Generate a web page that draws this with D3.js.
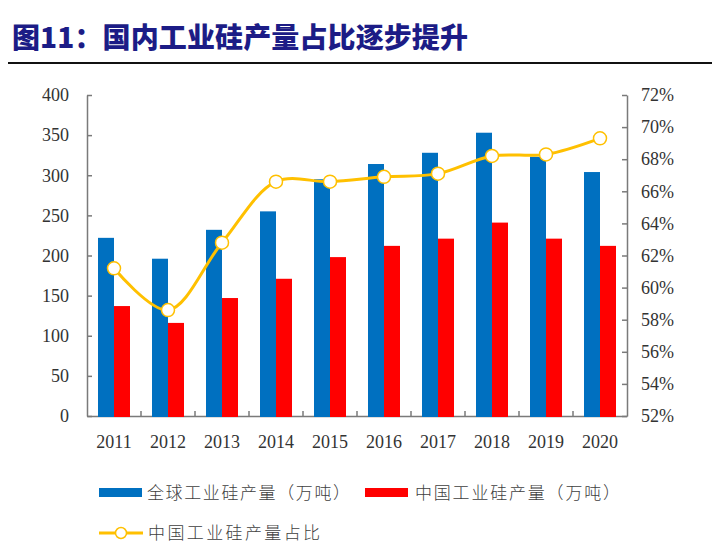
<!DOCTYPE html>
<html><head><meta charset="utf-8">
<script src="https://cdn.jsdelivr.net/npm/d3@7/dist/d3.min.js"></script>
<style>
html,body{margin:0;padding:0;background:#fff;}
svg{display:block;}
</style></head>
<body>
<svg id="chart" width="720" height="546"></svg>
<script>
const title = "图11：国内工业硅产量占比逐步提升";
const years = ["2011","2012","2013","2014","2015","2016","2017","2018","2019","2020"];
const globalOutput = [222, 196, 232, 255, 295, 314, 328, 353, 323, 304];
const chinaOutput = [137, 116, 147, 171, 198, 212, 221, 241, 221, 212];
const chinaShare = [61.2, 58.6, 62.8, 66.6, 66.6, 66.9, 67.1, 68.2, 68.3, 69.3];
const leftTicks = [0, 50, 100, 150, 200, 250, 300, 350, 400];
const rightTicks = [52, 54, 56, 58, 60, 62, 64, 66, 68, 70, 72];
const seriesNames = ["全球工业硅产量（万吨）", "中国工业硅产量（万吨）", "中国工业硅产量占比"];

const svg = d3.select("#chart");
const serif = "'Liberation Serif','Times New Roman',serif";
const cjk = "'Noto Sans CJK SC','Noto Sans',sans-serif";
const axisColor = "#7a7a7a";
const blue = "#0070C0", red = "#FF0000", gold = "#FFC000";

// Title
svg.append("text")
  .attr("x", 12).attr("y", 48)
  .attr("font-family", cjk).attr("font-weight", 900).attr("font-size", 28)
  .attr("fill", "#1c1c86")
  .attr("textLength", 456).attr("lengthAdjust", "spacing")
  .text(title);
svg.append("line").attr("x1", 8).attr("x2", 712).attr("y1", 63).attr("y2", 63)
  .attr("stroke", "#111").attr("stroke-width", 2);

// Scales
const x = d3.scaleBand().domain(years).range([87, 627]).paddingInner(0).paddingOuter(0);
const xs = d3.scaleBand().domain(["global", "china"]).range([11, 43]);
const yL = d3.scaleLinear().domain([0, 400]).range([416, 95]);
const yR = d3.scaleLinear().domain([52, 72]).range([416, 95]);

// Left axis
const gL = svg.append("g").attr("transform", "translate(87,0)")
  .call(d3.axisLeft(yL).tickValues(leftTicks).tickSizeInner(-5).tickSizeOuter(0).tickPadding(18));
// Right axis
const gR = svg.append("g").attr("transform", "translate(627,0)")
  .call(d3.axisRight(yR).tickValues(rightTicks).tickSizeInner(-5).tickSizeOuter(0).tickPadding(14)
    .tickFormat(d => d + "%"));
// Bottom axis (labels)
const gB = svg.append("g").attr("transform", "translate(0,416)")
  .call(d3.axisBottom(x).tickSize(0).tickPadding(19));

[gL, gR, gB].forEach(g => {
  g.select(".domain").attr("stroke", axisColor).attr("stroke-width", 1.5);
  g.selectAll(".tick line").attr("stroke", axisColor).attr("stroke-width", 1.5);
  g.selectAll(".tick text").attr("font-family", serif).attr("font-size", 18).attr("fill", "#333");
});

// Category boundary ticks on bottom axis
svg.append("g").selectAll("line").data(years.slice(1)).join("line")
  .attr("x1", d => x(d)).attr("x2", d => x(d))
  .attr("y1", 416).attr("y2", 411)
  .attr("stroke", axisColor).attr("stroke-width", 1.5);

// Bars
const bars = svg.append("g");
bars.selectAll("rect.g").data(years).join("rect").attr("class", "g")
  .attr("x", d => x(d) + xs("global")).attr("width", xs.bandwidth())
  .attr("y", (d, i) => yL(globalOutput[i])).attr("height", (d, i) => yL(0) - yL(globalOutput[i]) + 1)
  .attr("fill", blue);
bars.selectAll("rect.c").data(years).join("rect").attr("class", "c")
  .attr("x", d => x(d) + xs("china")).attr("width", xs.bandwidth())
  .attr("y", (d, i) => yL(chinaOutput[i])).attr("height", (d, i) => yL(0) - yL(chinaOutput[i]) + 1)
  .attr("fill", red);

// Line
const pts = years.map((d, i) => [x(d) + x.bandwidth() / 2, yR(chinaShare[i])]);
svg.append("path").datum(pts)
  .attr("d", d3.line().curve(d3.curveCatmullRom.alpha(0.5)))
  .attr("fill", "none").attr("stroke", gold).attr("stroke-width", 3);
svg.append("g").selectAll("circle").data(pts).join("circle")
  .attr("cx", d => d[0]).attr("cy", d => d[1]).attr("r", 6.5)
  .attr("fill", "#fff").attr("stroke", gold).attr("stroke-width", 1.5);

// Legend
const lg = svg.append("g");
lg.append("rect").attr("x", 99).attr("y", 488).attr("width", 43).attr("height", 9).attr("fill", blue);
lg.append("text").attr("x", 147).attr("y", 493).attr("dy", "0.35em")
  .attr("font-family", cjk).attr("font-weight", 300).attr("font-size", 17).attr("fill", "#404040")
  .attr("textLength", 203).attr("lengthAdjust", "spacing").text(seriesNames[0]);
lg.append("rect").attr("x", 365).attr("y", 488).attr("width", 43).attr("height", 9).attr("fill", red);
lg.append("text").attr("x", 415).attr("y", 493).attr("dy", "0.35em")
  .attr("font-family", cjk).attr("font-weight", 300).attr("font-size", 17).attr("fill", "#404040")
  .attr("textLength", 205).attr("lengthAdjust", "spacing").text(seriesNames[1]);
lg.append("line").attr("x1", 99).attr("x2", 143).attr("y1", 533).attr("y2", 533)
  .attr("stroke", gold).attr("stroke-width", 3);
lg.append("circle").attr("cx", 121).attr("cy", 533).attr("r", 5.5)
  .attr("fill", "#fff").attr("stroke", gold).attr("stroke-width", 1.5);
lg.append("text").attr("x", 148).attr("y", 533).attr("dy", "0.35em")
  .attr("font-family", cjk).attr("font-weight", 300).attr("font-size", 17).attr("fill", "#404040")
  .attr("textLength", 172).attr("lengthAdjust", "spacing").text(seriesNames[2]);
</script>
</body></html>
